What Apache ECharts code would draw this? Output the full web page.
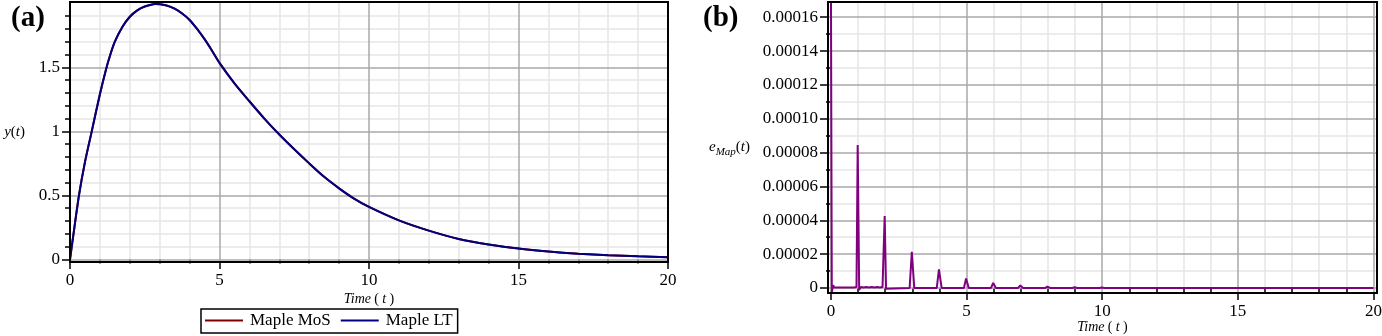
<!DOCTYPE html>
<html><head><meta charset="utf-8">
<script src="https://cdn.jsdelivr.net/npm/echarts@6/dist/echarts.min.js"></script>
<style>html,body{margin:0;padding:0;background:#fff}#c{width:1382px;height:336px}</style>
</head><body><div id="c"></div>
<script>
// ---- Panel (a) data ----
const tA   = [0, 0.1, 0.3, 0.5, 0.727, 1, 1.2, 1.35, 1.5, 1.75, 2, 2.25, 2.5, 2.85, 3.2, 3.5, 3.75, 4, 4.25, 4.5, 4.75, 5, 5.5, 6, 6.5, 7, 7.5, 8, 8.5, 9, 9.5, 10, 11, 12, 13, 14, 15, 16, 17, 18, 19, 20];
const yMoS = [0, 0.17, 0.5, 0.76, 1.0, 1.29, 1.48, 1.60, 1.70, 1.815, 1.895, 1.945, 1.975, 1.995, 1.985, 1.958, 1.92, 1.87, 1.80, 1.72, 1.63, 1.535, 1.375, 1.235, 1.10, 0.975, 0.86, 0.75, 0.645, 0.555, 0.475, 0.41, 0.305, 0.225, 0.16, 0.117, 0.085, 0.062, 0.045, 0.033, 0.024, 0.017];
const yLT  = [0, 0.17, 0.5, 0.76, 1.0, 1.29, 1.48, 1.60, 1.70, 1.815, 1.895, 1.945, 1.975, 1.995, 1.985, 1.958, 1.92, 1.87, 1.80, 1.72, 1.63, 1.535, 1.375, 1.235, 1.10, 0.975, 0.86, 0.75, 0.645, 0.555, 0.475, 0.41, 0.305, 0.225, 0.16, 0.117, 0.085, 0.062, 0.045, 0.033, 0.024, 0.017];

// ---- Panel (b) data ----
const tB   = [0, 0.03, 0.08, 0.12, 0.18, 0.25, 0.32, 0.4, 0.47, 0.55, 0.62, 0.7, 0.77, 0.85, 0.9, 0.94, 0.985, 1.04, 1.1, 1.2, 1.3, 1.4, 1.5, 1.6, 1.7, 1.8, 1.9, 1.93, 1.98, 2.03, 2.1,
              2.9, 2.98, 3.07, 3.9, 3.98, 4.08, 4.9, 4.98, 5.08, 5.9, 5.98, 6.08, 6.9, 6.98, 7.08, 7.9, 7.98, 8.08, 8.9, 8.98, 9.08, 9.9, 9.98, 10.08, 20];
const eMap = [0.000169, -0.0000026, 0.0000016, 0.0000002, 0.0000009, 0.0000003, 0.0000009, 0.0000003, 0.0000009, 0.0000003, 0.0000009, 0.0000003, 0.0000009, 0.0000003, 0.000001, 0.0000005, 0.0000845, -0.0000013, 0.0000006, 0.0000002, 0.0000006, 0.0000002, 0.0000006, 0.0000002, 0.0000006, 0.0000002, 0.0000006, 0.0000003, 0.0000425, -0.0000005, 0,
              0, 0.0000214, 0, 0, 0.000011, 0, 0, 0.0000056, 0, 0, 0.0000029, 0, 0, 0.0000015, 0, 0, 0.0000008, 0, 0, 0.0000004, 0, 0, 0.0000002, 0, 0];

// ---- ticks ----
const xMajor  = [0, 5, 10, 15, 20];
const xMinor  = [1, 2, 3, 4, 6, 7, 8, 9, 11, 12, 13, 14, 16, 17, 18, 19];
const yAMajor = [0, 0.5, 1, 1.5];
const yAMinor = [0.1, 0.2, 0.3, 0.4, 0.6, 0.7, 0.8, 0.9, 1.1, 1.2, 1.3, 1.4, 1.6, 1.7, 1.8, 1.9];
const yBMajor = [0, 0.00002, 0.00004, 0.00006, 0.00008, 0.0001, 0.00012, 0.00014, 0.00016];
const yBMinor = [0.00001, 0.00003, 0.00005, 0.00007, 0.00009, 0.00011, 0.00013, 0.00015];

const FONT = 'Liberation Serif, Times New Roman, serif';
const MAJOR_GRID = '#a9a9a9', MINOR_GRID = '#e6e6e6';

function zip(a, b) { return a.map((v, i) => [v, b[i]]); }

function xAxes(grid, min, max, name, nameGap) {
  return [
    { type: 'value', gridIndex: grid, position: 'bottom', min: min, max: max, z: 0,
      axisLine: { show: false }, axisLabel: { show: false },
      axisTick: { show: true, length: 4, lineStyle: { color: '#000', width: 1.5 }, customValues: xMinor },
      splitLine: { show: true, lineStyle: { color: MINOR_GRID, width: 1.5 } } },
    { type: 'value', gridIndex: grid, position: 'bottom', min: min, max: max, z: 1,
      axisLine: { show: true, onZero: false, lineStyle: { color: '#000', width: 2 } },
      axisTick: { show: true, length: 7, lineStyle: { color: '#000', width: 1.5 }, customValues: xMajor },
      axisLabel: { show: true, margin: 10, color: '#000', fontFamily: FONT, fontSize: 17, customValues: xMajor },
      splitLine: { show: true, lineStyle: { color: MAJOR_GRID, width: 1.5 } },
      name: name, nameLocation: 'middle', nameGap: nameGap, nameMoveOverlap: false,
      nameTextStyle: { rich: {
        i: { fontFamily: FONT, fontSize: 14, fontStyle: 'italic', color: '#000' },
        n: { fontFamily: FONT, fontSize: 14, color: '#000' } } } }
  ];
}

function yAxes(grid, min, max, major, minor, fmt, name, nameGap) {
  return [
    { type: 'value', gridIndex: grid, position: 'left', min: min, max: max, z: 0,
      axisLine: { show: false }, axisLabel: { show: false },
      axisTick: { show: true, length: 5, lineStyle: { color: '#000', width: 1.5 }, customValues: minor },
      splitLine: { show: true, lineStyle: { color: MINOR_GRID, width: 1.5 } } },
    { type: 'value', gridIndex: grid, position: 'left', min: min, max: max, z: 1,
      axisLine: { show: true, onZero: false, lineStyle: { color: '#000', width: 2 } },
      axisTick: { show: true, length: 8, lineStyle: { color: '#000', width: 1.5 }, customValues: major },
      axisLabel: { show: true, margin: 10, color: '#000', fontFamily: FONT, fontSize: 17, customValues: major, formatter: fmt },
      splitLine: { show: true, lineStyle: { color: MAJOR_GRID, width: 1.5 } },
      name: name, nameLocation: 'middle', nameGap: nameGap, nameRotate: 0, nameMoveOverlap: false,
      nameTextStyle: { rich: {
        i: { fontFamily: FONT, fontSize: 15, fontStyle: 'italic', color: '#000' },
        n: { fontFamily: FONT, fontSize: 15, color: '#000' },
        s: { fontFamily: FONT, fontSize: 11, fontStyle: 'italic', color: '#000', padding: [10, 0, 0, 0] } } } }
  ];
}

const chart = echarts.init(document.getElementById('c'), null, { renderer: 'canvas' });
const option = {
  animation: false,
  backgroundColor: '#fff',
  grid: [
    { left: 70, top: 2, width: 598, bottom: 74, show: true, z: 5, backgroundColor: 'transparent', borderColor: '#000', borderWidth: 2, outerBoundsMode: 'none', containLabel: false },
    { left: 828, top: 2, right: 5, bottom: 43, show: true, z: 5, backgroundColor: 'transparent', borderColor: '#000', borderWidth: 2, outerBoundsMode: 'none', containLabel: false }
  ],
  xAxis: [].concat(
    xAxes(0, 0, 20, '{i|Time} {n|(} {i|t} {n|)}', 30),
    xAxes(1, -0.11, 20.13, '{i|Time} {n|(} {i|t} {n|)}', 27)
  ),
  yAxis: [].concat(
    yAxes(0, -0.02, 2.01, yAMajor, yAMinor, v => String(v), '{i|y}{n|(}{i|t}{n|)}', 45),
    yAxes(1, -0.000003, 0.000169, yBMajor, yBMinor, v => v === 0 ? '0' : v.toFixed(5), '{i|e}{s|Map}{n|(}{i|t}{n|)}', 78)
  ),
  legend: {
    left: 201, top: 309, orient: 'horizontal',
    data: [{ name: 'Maple MoS', icon: 'rect' }, { name: 'Maple LT', icon: 'rect' }],
    borderColor: '#000', borderWidth: 1.5, borderRadius: 0,
    padding: [3, 5, 4, 4], itemGap: 10, itemWidth: 38, itemHeight: 2,
    textStyle: { fontFamily: FONT, fontSize: 17, color: '#000', padding: [0, 0, 0, 2] }
  },
  graphic: [
    { type: 'text', left: 11, top: 4, style: { text: '(a)', fontFamily: FONT, fontSize: 29, fontWeight: 'bold', fill: '#000' } },
    { type: 'text', left: 703, top: 4, style: { text: '(b)', fontFamily: FONT, fontSize: 29, fontWeight: 'bold', fill: '#000' } }
  ],
  series: [
    { name: 'Maple MoS', type: 'line', xAxisIndex: 1, yAxisIndex: 1, data: zip(tA, yMoS), symbol: 'none', smooth: 0.25,
      lineStyle: { color: '#800000', width: 2 }, itemStyle: { color: '#800000' } },
    { name: 'Maple LT', type: 'line', xAxisIndex: 1, yAxisIndex: 1, data: zip(tA, yLT), symbol: 'none', smooth: 0.25,
      lineStyle: { color: '#000080', width: 2 }, itemStyle: { color: '#000080' } },
    { name: 'e_Map', type: 'line', xAxisIndex: 3, yAxisIndex: 3, data: zip(tB, eMap), symbol: 'none',
      lineStyle: { color: '#800080', width: 2 }, itemStyle: { color: '#800080' } }
  ]
};
chart.setOption(option);
</script>
</body></html>
